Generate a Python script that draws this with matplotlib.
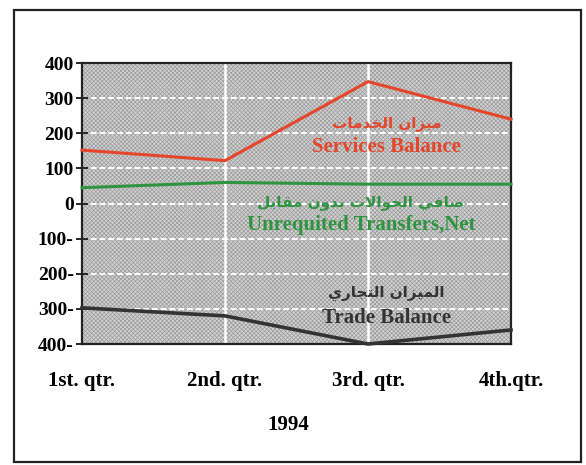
"""
Balance of payments 1994 by quarter - line chart recreation
"""

import matplotlib.pyplot as plt
from matplotlib.patches import Rectangle

plt.rcParams["hatch.linewidth"] = 0.5

# Data
quarters = ["1st. qtr.", "2nd. qtr.", "3rd. qtr.", "4th.qtr."]
services = [152, 122, 347, 240]
transfers = [45, 60, 55, 55]
trade = [-297, -320, -400, -360]

y_ticks = [400, 300, 200, 100, 0, -100, -200, -300, -400]
y_labels = ["400", "300", "200", "100", "0", "100-", "200-", "300-", "400-"]

RED = "#e5452a"
GREEN = "#2f9440"
DARK = "#333333"
SERIF = ["Liberation Serif", "DejaVu Serif"]
ARABIC = ["DejaVu Sans"]

# Arabic labels written as presentation forms in visual order
# (matplotlib has no shaping engine)
services_ar = "".join(chr(c) for c in [
    0xFEE3, 0xFEF4, 0xFEB0, 0xFE8D, 0xFEE5, 0x20,
    0xFE8D, 0xFEDF, 0xFEA8, 0xFEAA, 0xFEE3, 0xFE8E, 0xFE95])[::-1]
transfers_ar = "".join(chr(c) for c in [
    0xFEBB, 0xFE8E, 0xFED3, 0xFEF2, 0x20,
    0xFE8D, 0xFEDF, 0xFEA4, 0xFEEE, 0xFE8D, 0xFEFB, 0xFE95, 0x20,
    0xFE91, 0xFEAA, 0xFEED, 0xFEE5, 0x20,
    0xFEE3, 0xFED8, 0xFE8E, 0xFE91, 0xFEDE])[::-1]
trade_ar = "".join(chr(c) for c in [
    0xFE8D, 0xFEDF, 0xFEE4, 0xFEF4, 0xFEB0, 0xFE8D, 0xFEE5, 0x20,
    0xFE8D, 0xFEDF, 0xFE98, 0xFEA0, 0xFE8E, 0xFEAD, 0xFEF1])[::-1]

fig = plt.figure(figsize=(5.86, 4.65), dpi=100)
fig.patch.set_facecolor("white")

# outer frame
fig.add_artist(Rectangle((14 / 586, 1 - 462 / 465), 567 / 586, 452 / 465,
                         transform=fig.transFigure, fill=False,
                         edgecolor="#222222", linewidth=1.6))

ax = fig.add_axes([82 / 586, 1 - 344 / 465, 429 / 586, 281 / 465])
ax.set_facecolor("#d2d2d2")
ax.add_patch(Rectangle((0, 0), 1, 1, transform=ax.transAxes, facecolor="none",
                       edgecolor="#9a9a9a", hatch="xxxxxxxx", linewidth=0, zorder=0))

x = list(range(len(quarters)))
ax.set_xlim(0, len(quarters) - 1)
ax.set_ylim(-400, 400)

for v in y_ticks[1:-1]:
    ax.axhline(v, color="white", linewidth=1.4, linestyle=(0, (3, 1.5)), zorder=1)
for q in x[1:-1]:
    ax.axvline(q, color="white", linewidth=1.8, zorder=1)

ax.plot(x, services, color=RED, linewidth=2.2, zorder=3, clip_on=False)
ax.plot(x, transfers, color=GREEN, linewidth=2.2, zorder=3, clip_on=False)
ax.plot(x, trade, color=DARK, linewidth=2.6, zorder=3, clip_on=False)

ax.set_yticks(y_ticks)
ax.set_yticklabels(y_labels, fontfamily=SERIF, fontweight="bold", fontsize=14)
ax.tick_params(axis="y", direction="inout", length=8, width=1.2, pad=2)
ax.set_xticks([])
for q, lab in zip(x, quarters):
    ax.text(q, -505, lab, ha="center", va="center", fontfamily=SERIF,
            fontweight="bold", fontsize=15, clip_on=False)
ax.text(1.44, -630, "1994", ha="center", va="center", fontfamily=SERIF,
        fontweight="bold", fontsize=15, clip_on=False)

for s in ax.spines.values():
    s.set_linewidth(1.6)
    s.set_color("#222222")

# series labels inside the plot
ax.text(2.13, 229, services_ar, ha="center", va="center", color=RED,
        fontfamily=ARABIC, fontweight="bold", fontsize=11, zorder=4)
ax.text(2.13, 161, "Services Balance", ha="center", va="center", color=RED,
        fontfamily=SERIF, fontweight="bold", fontsize=15, zorder=4)
ax.text(1.95, 4, transfers_ar, ha="center", va="center", color=GREEN,
        fontfamily=ARABIC, fontweight="bold", fontsize=11, zorder=4)
ax.text(1.95, -61, "Unrequited Transfers,Net", ha="center", va="center",
        color=GREEN, fontfamily=SERIF, fontweight="bold", fontsize=15, zorder=4)
ax.text(2.13, -255, trade_ar, ha="center", va="center", color=DARK,
        fontfamily=ARABIC, fontweight="bold", fontsize=11, zorder=4)
ax.text(2.13, -326, "Trade Balance", ha="center", va="center", color=DARK,
        fontfamily=SERIF, fontweight="bold", fontsize=15, zorder=4)

fig.savefig("out.png", dpi=100)
plt.close(fig)
